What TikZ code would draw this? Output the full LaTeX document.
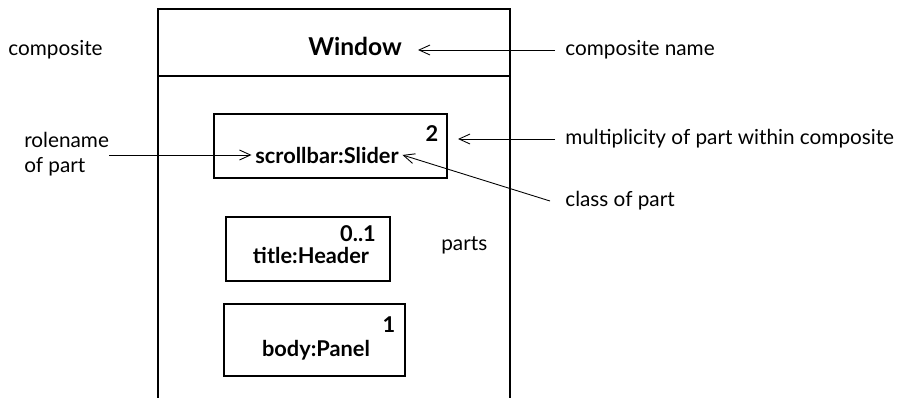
\documentclass[tikz,border=0pt]{standalone}
\usepackage{fontspec}
\setsansfont{Lato}
\usepackage{tikz}
\usetikzlibrary{positioning,arrows.meta}

\begin{document}
\begin{tikzpicture}[x=0.02cm,y=-0.02cm,font=\sffamily\fontsize{11.8}{14.5}\selectfont,
 p/.style={draw,line width=0.8pt,inner sep=0pt},
 n/.style={font=\sffamily\bfseries\fontsize{12.4}{14}\selectfont,inner sep=2pt},
 l/.style={align=left,anchor=west,inner sep=0pt},
 a/.style={-{Straight Barb[length=2.2mm,width=2mm]},line width=0.5pt}]
 \useasboundingbox (0,0) rectangle (902,398);
 \draw[line width=0.8pt] (158,398) -- (158,9) -- (510,9) -- (510,398);
 \draw[line width=0.8pt] (158,76) -- (510,76);
 \node[n,font=\sffamily\bfseries\fontsize{14}{16}\selectfont](win) at (355,46){Window};
 \node[p,minimum width=4.66cm,minimum height=1.28cm](slider) at (330.5,146){};
 \node[n](slidername) at (327,155){scrollbar:Slider};
 \node[n](slidermult) at (432,134){2};
 \node[p,minimum width=3.28cm,minimum height=1.28cm](header) at (308,249){};
 \node[n](headername) at (311,255){title:Header};
 \node[n](headermult) at (358,234){0..1};
 \node[p,minimum width=3.62cm,minimum height=1.44cm](panel) at (314.5,340){};
 \node[n](panelname) at (316,350){body:Panel};
 \node[n](panelmult) at (389,325){1};
 \node[l](comp) at (8,50){composite};
 \node[l](compname) at (565,50){composite name};
 \node[l](role) at (24,154){rolename\\of part};
 \node[l](mult) at (565,139){multiplicity of part within composite};
 \node[l](cls) at (565,201){class of part};
 \node[l](parts) at (441,245){parts};
 \coordinate (multtip) at (458,139);
 \coordinate (wintip) at (418,50);
 \draw[a] ([xshift=-0.2cm]compname.west) -- (wintip);
 \draw[a] ([xshift=-0.2cm]mult.west) -- (multtip);
 \draw[a] ([xshift=-0.3cm]cls.west) -- (slidername.east);
 \draw[a] (role.east |- slidername.west) -- (slidername.west);
\end{tikzpicture}
\end{document}
